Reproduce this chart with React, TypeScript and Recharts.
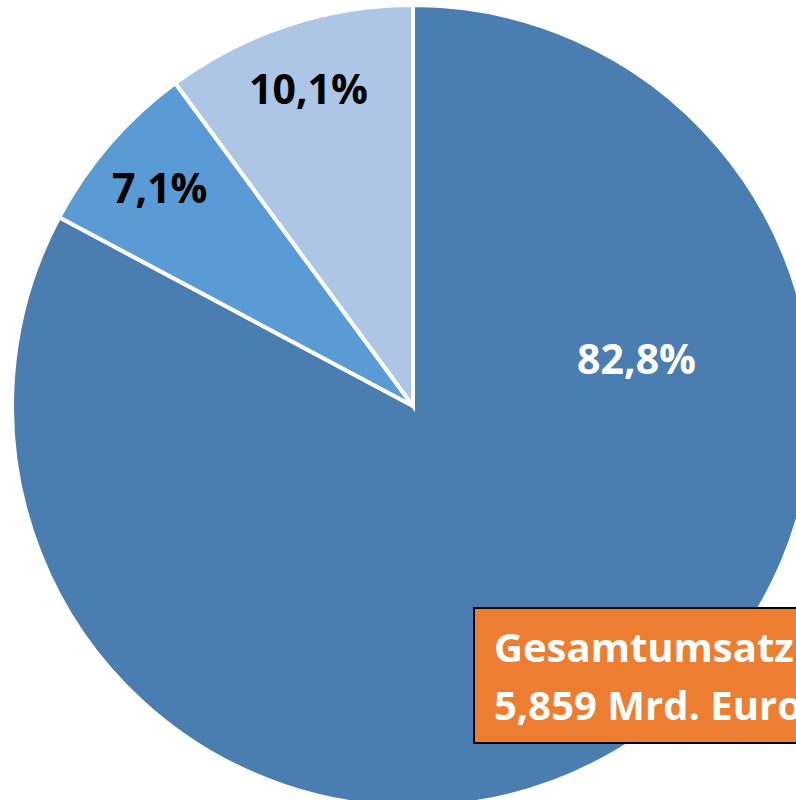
import { PieChart, Pie, Cell } from 'recharts'

// Anteile am Gesamtumsatz (in %)
const segments = ['Segment 1', 'Segment 2', 'Segment 3']
const shares = [82.8, 7.1, 10.1]
const colors = ['#4A7EB0', '#5B9BD5', '#AEC6E6']
const totalLabel = ['Gesamtumsatz', '5,859 Mrd. Euro']

const data = segments.map((name, i) => ({ name, value: shares[i] }))

const RAD = Math.PI / 180

const renderLabel = (props: any) => {
  const { cx, cy, midAngle, outerRadius, index, value } = props
  // big slice label sits up-right like in the original, small ones on their mid angle
  const angle = index === 0 ? 12 : midAngle
  const r = outerRadius * (index === 0 ? 0.57 : 0.835)
  const x = cx + r * Math.cos(-angle * RAD)
  const y = cy + r * Math.sin(-angle * RAD)
  return (
    <text
      x={x}
      y={y}
      textAnchor="middle"
      dominantBaseline="central"
      fill={index === 0 ? '#FFFFFF' : '#000000'}
      fontFamily="'Open Sans', sans-serif"
      fontWeight={700}
      fontSize={41}
    >
      {value.toFixed(1).replace('.', ',') + '%'}
    </text>
  )
}

export default function App() {
  return (
    <div
      style={{
        position: 'fixed',
        left: 0,
        top: 0,
        width: 796,
        height: 800,
        overflow: 'hidden',
        background: '#FFFFFF',
      }}
    >
      <PieChart width={796} height={800} margin={{ top: 0, right: 0, bottom: 0, left: 0 }}>
        <Pie
          data={data}
          dataKey="value"
          nameKey="name"
          cx={413}
          cy={406}
          outerRadius={401}
          startAngle={90}
          endAngle={-270}
          stroke="#FFFFFF"
          strokeWidth={4}
          label={renderLabel}
          labelLine={false}
          isAnimationActive={false}
        >
          {data.map((d, i) => (
            <Cell key={d.name} fill={colors[i]} />
          ))}
        </Pie>
      </PieChart>
      <div
        style={{
          position: 'absolute',
          left: 473,
          top: 607,
          width: 360,
          height: 124,
          background: '#ED7D31',
          border: '2px solid #000000',
          boxSizing: 'content-box',
          color: '#FFFFFF',
          fontFamily: "'Open Sans', sans-serif",
          fontWeight: 700,
          fontSize: 40,
          lineHeight: '58px',
          paddingLeft: 19,
          paddingTop: 9,
          whiteSpace: 'nowrap',
        }}
      >
        {totalLabel.map(t => (
          <div key={t}>{t}</div>
        ))}
      </div>
    </div>
  )
}
